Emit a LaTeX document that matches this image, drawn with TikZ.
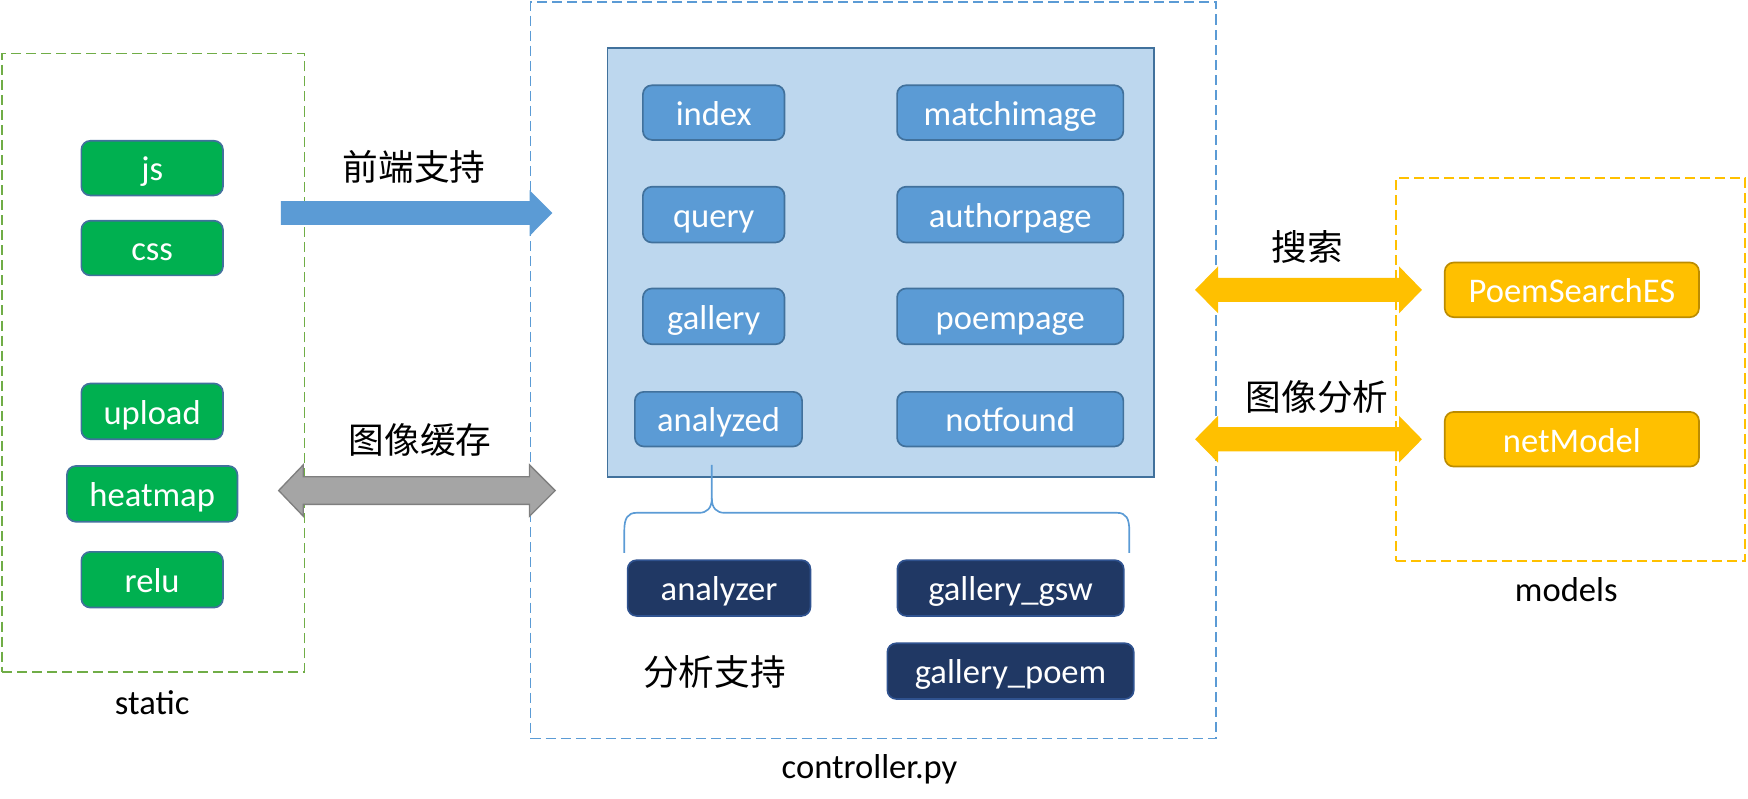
\documentclass[tikz,border=0pt]{standalone}
\usepackage{fontspec}
\setmainfont{Carlito}
\newfontfamily\cjk{Noto Sans CJK SC}
\definecolor{gfill}{HTML}{00B050}
\definecolor{bfill}{HTML}{5B9BD5}
\definecolor{bborder}{HTML}{41719C}
\definecolor{dfill}{HTML}{203864}
\definecolor{dborder}{HTML}{2F528F}
\definecolor{yfill}{HTML}{FFC000}
\definecolor{yborder}{HTML}{BC8C00}
\definecolor{lfill}{HTML}{BDD7EE}
\definecolor{sgreen}{HTML}{70AD47}
\definecolor{grayf}{HTML}{A5A5A5}
\definecolor{grayd}{HTML}{7F7F7F}
\tikzset{
  btn/.style={rounded corners=8pt, line width=1.5pt, text=white, inner sep=0pt,
    font=\fontsize{31}{31}\selectfont, text height=27pt, text depth=4pt},
  gbtn/.style={btn, fill=gfill, draw=bborder},
  bbtn/.style={btn, fill=bfill, draw=bborder},
  dbtn/.style={btn, fill=dfill, draw=dborder},
  ybtn/.style={btn, fill=yfill, draw=yborder},
  lbl/.style={font=\fontsize{31}{31}\selectfont, anchor=base, inner sep=0pt},
  cjklbl/.style={font=\cjk\fontsize{32}{32}\selectfont, inner sep=0pt},
  dashbox/.style={dash pattern=on 9pt off 4.5pt, line width=1.5pt, inner sep=0pt},
  bracepath/.style={draw=bfill, line width=1.5pt},
}
\begin{document}
\begin{tikzpicture}[x=1pt,y=-1pt]
\useasboundingbox (0,0) rectangle (1568,716);
% containers
\node[dashbox, draw=sgreen, minimum width=271pt, minimum height=555pt] (staticbox) at (137.5,325.5) {};
\node[dashbox, draw=bfill, minimum width=615pt, minimum height=661pt] (ctrlbox) at (783.5,332) {};
\node[dashbox, draw=yfill, minimum width=313pt, minimum height=344pt] (modelbox) at (1409,331.5) {};
\node[lbl] (staticlbl) at (136.5,641) {static};
\node[lbl] (ctrllbl) at (780,698) {controller.py};
\node[lbl] (modellbl) at (1405,539.5) {models};
% static buttons
\node[gbtn, minimum width=127pt, minimum height=49pt] (js) at (136.5,150.8) {js};
\node[gbtn, minimum width=127pt, minimum height=49pt] (css) at (136.5,222.5) {css};
\node[gbtn, minimum width=127pt, minimum height=50pt] (upload) at (136.5,369) {upload};
\node[gbtn, minimum width=153pt, minimum height=50pt] (heatmap) at (136.5,443) {heatmap};
\node[gbtn, minimum width=127pt, minimum height=50pt] (relu) at (136.5,520) {relu};
% inner panel
\node[draw=bborder, fill=lfill, line width=1.5pt, minimum width=490pt, minimum height=385pt, inner sep=0pt] (panel) at (790,235.3) {};
\node[bbtn, minimum width=127pt, minimum height=49pt] (index) at (640.2,101) {index};
\node[bbtn, minimum width=203pt, minimum height=49pt] (matchimage) at (906.2,101) {matchimage};
\node[bbtn, minimum width=127pt, minimum height=50pt] (query) at (640.2,192.5) {query};
\node[bbtn, minimum width=203pt, minimum height=50pt] (authorpage) at (906.2,192.5) {authorpage};
\node[bbtn, minimum width=127pt, minimum height=50pt] (gallery) at (640.2,283.8) {gallery};
\node[bbtn, minimum width=203pt, minimum height=50pt] (poempage) at (906.2,283.8) {poempage};
\node[bbtn, minimum width=150pt, minimum height=49pt] (analyzed) at (644.5,376) {analyzed};
\node[bbtn, minimum width=203pt, minimum height=49pt] (notfound) at (906.2,376) {notfound};
% brace
\coordinate (bracetip) at (638.5,417);
\coordinate (bracemid) at (638.5,447);
\coordinate (braceL) at (560,496);
\coordinate (braceR) at (1013,496);
\draw[bracepath] (bracetip) -- (bracemid) .. controls (638.5,456) and (634,460) .. (627,460) -- (571,460) .. controls (563,460) and (560,465) .. (560,476) -- (braceL);
\draw[bracepath] (bracemid) .. controls (638.5,456) and (643,460) .. (650,460) -- (1002,460) .. controls (1010,460) and (1013,465) .. (1013,476) -- (braceR);
% dark buttons
\node[dbtn, minimum width=164pt, minimum height=50pt] (analyzer) at (645,527.5) {analyzer};
\node[dbtn, minimum width=203pt, minimum height=50pt] (gallerygsw) at (906.5,527.5) {gallery\_gsw};
\node[dbtn, minimum width=221pt, minimum height=50pt] (gallerypoem) at (906.5,602) {gallery\_poem};
\node[cjklbl] (fxzc) at (641,603) {分析支持};
% model buttons
\node[ybtn, minimum width=228pt, minimum height=49pt] (poemsearch) at (1410,260) {PoemSearchES};
\node[ybtn, minimum width=228pt, minimum height=49pt] (netmodel) at (1410,394) {netModel};
% arrows
\fill[bfill] (252,180.3) -- (475,180.3) -- (475,170.5) -- (495.5,191) -- (475,211.7) -- (475,201.8) -- (252,201.8) -- cycle;
\node[cjklbl] (qdzc) at (371.5,149.5) {前端支持};
\filldraw[fill=grayf, draw=grayd, line width=1.2pt] (250,440) -- (272,417) -- (272,427.6) -- (475,427.6) -- (475,417) -- (498,440) -- (475,463) -- (475,452.4) -- (272,452.4) -- (272,463) -- cycle;
\node[cjklbl] (txhc) at (377,395) {图像缓存};
\fill[yfill] (1072,260) -- (1092.6,239) -- (1092.6,249.2) -- (1255,249.2) -- (1255,239) -- (1275.5,260) -- (1255,281) -- (1255,270.8) -- (1092.6,270.8) -- (1092.6,281) -- cycle;
\node[cjklbl] (ss) at (1172.6,221.6) {搜索};
\fill[yfill] (1072,394) -- (1092.6,373) -- (1092.6,383.2) -- (1255,383.2) -- (1255,373) -- (1275.5,394) -- (1255,415) -- (1255,404.8) -- (1092.6,404.8) -- (1092.6,415) -- cycle;
\node[cjklbl] (txfx) at (1181.6,356) {图像分析};
\end{tikzpicture}
\end{document}
